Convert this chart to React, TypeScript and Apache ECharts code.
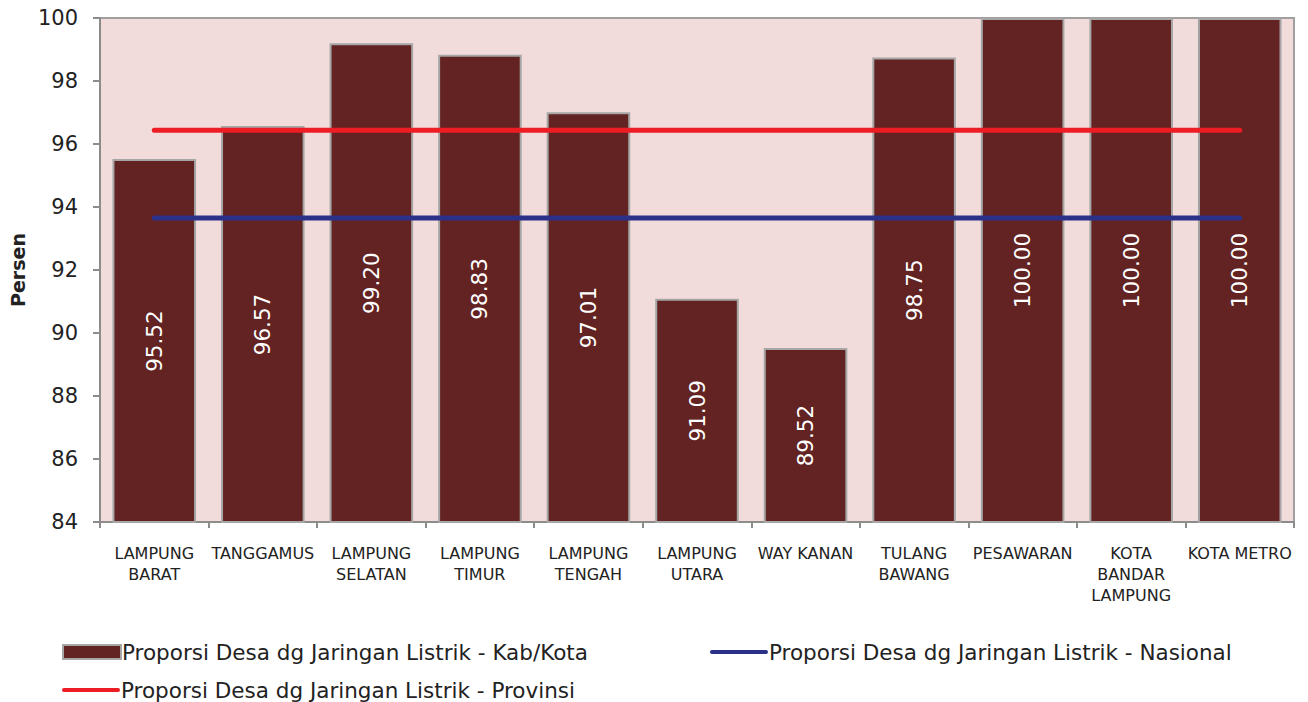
import React, { useEffect, useRef } from "react";
import * as echarts from "echarts";

const categories = [
  "LAMPUNG\nBARAT",
  "TANGGAMUS",
  "LAMPUNG\nSELATAN",
  "LAMPUNG\nTIMUR",
  "LAMPUNG\nTENGAH",
  "LAMPUNG\nUTARA",
  "WAY KANAN",
  "TULANG\nBAWANG",
  "PESAWARAN",
  "KOTA\nBANDAR\nLAMPUNG",
  "KOTA METRO",
];
const kabKota = [95.52, 96.57, 99.2, 98.83, 97.01, 91.09, 89.52, 98.75, 100.0, 100.0, 100.0];
const provinsiValue = 96.44;
const nasionalValue = 93.65;
const provinsi = categories.map(() => provinsiValue);
const nasional = categories.map(() => nasionalValue);

const nameKab = "Proporsi Desa dg Jaringan Listrik - Kab/Kota";
const nameNas = "Proporsi Desa dg Jaringan Listrik - Nasional";
const nameProv = "Proporsi Desa dg Jaringan Listrik - Provinsi";

const FONT = "DejaVu Sans";

export default function App() {
  const ref = useRef<HTMLDivElement>(null);
  useEffect(() => {
    const chart = echarts.init(ref.current!, null, { renderer: "svg" });
    const legendText = { fontFamily: FONT, fontSize: 21.5, color: "#222", padding: [0, 0, 0, -4] };
    const lineIcon = "path://M2,0 L58,0 A2,2 0 0 1 58,4 L2,4 A2,2 0 0 1 2,0 Z";
    chart.setOption({
      animation: false,
      backgroundColor: "#ffffff",
      grid: {
        left: 100,
        right: 14,
        top: 18,
        bottom: 180,
        containLabel: false,
        outerBoundsMode: "none",
        show: true,
        backgroundColor: "#f2dcdb",
        borderColor: "#a0a0a0",
        borderWidth: 2,
      },
      legend: [
        {
          data: [{ name: nameKab, icon: "rect" }],
          left: 62,
          top: 641,
          padding: 0,
          itemWidth: 58,
          itemHeight: 14,
          textStyle: legendText,
        },
        {
          data: [{ name: nameNas, icon: lineIcon }],
          left: 710,
          top: 641,
          padding: 0,
          itemWidth: 58,
          itemHeight: 5,
          textStyle: legendText,
        },
        {
          data: [{ name: nameProv, icon: lineIcon }],
          left: 62,
          top: 679,
          padding: 0,
          itemWidth: 58,
          itemHeight: 5,
          textStyle: legendText,
        },
      ],
      xAxis: {
        type: "category",
        data: categories,
        axisLine: { show: true, lineStyle: { color: "#8c8c8c", width: 2 } },
        axisTick: { show: true, alignWithLabel: false, length: 6, lineStyle: { color: "#8c8c8c", width: 2 } },
        axisLabel: {
          interval: 0,
          margin: 21,
          fontFamily: FONT,
          fontSize: 16,
          lineHeight: 21,
          color: "#222",
        },
      },
      yAxis: {
        type: "value",
        min: 84,
        max: 100,
        interval: 2,
        name: "Persen",
        nameLocation: "middle",
        nameGap: 72,
        nameTextStyle: { fontFamily: FONT, fontSize: 19, fontWeight: "bold", color: "#222" },
        axisLine: { show: true, lineStyle: { color: "#8c8c8c", width: 2 } },
        axisTick: { show: true, length: 7, lineStyle: { color: "#8c8c8c", width: 2 } },
        splitLine: { show: false },
        axisLabel: { fontFamily: FONT, fontSize: 21, color: "#222", margin: 22 },
      },
      series: [
        {
          name: nameKab,
          type: "bar",
          data: kabKota,
          barCategoryGap: "23%",
          itemStyle: { color: "#622322", borderColor: "#a6a6a6", borderWidth: 2 },
          label: {
            show: true,
            position: "inside",
            rotate: 90,
            color: "#ffffff",
            fontFamily: FONT,
            fontSize: 21.5,
            formatter: (p: any) => Number(p.value).toFixed(2),
          },
          z: 1,
        },
        {
          name: nameNas,
          type: "line",
          data: nasional,
          symbol: "none",
          lineStyle: { color: "#2b3089", width: 5, cap: "round" },
          itemStyle: { color: "#2b3089" },
          z: 3,
        },
        {
          name: nameProv,
          type: "line",
          data: provinsi,
          symbol: "none",
          lineStyle: { color: "#ee1c25", width: 5, cap: "round" },
          itemStyle: { color: "#ee1c25" },
          z: 3,
        },
      ],
    });
    return () => chart.dispose();
  }, []);
  return (
    <div
      ref={ref}
      style={{ position: "fixed", left: 0, top: 0, width: 1308, height: 702 }}
    />
  );
}
